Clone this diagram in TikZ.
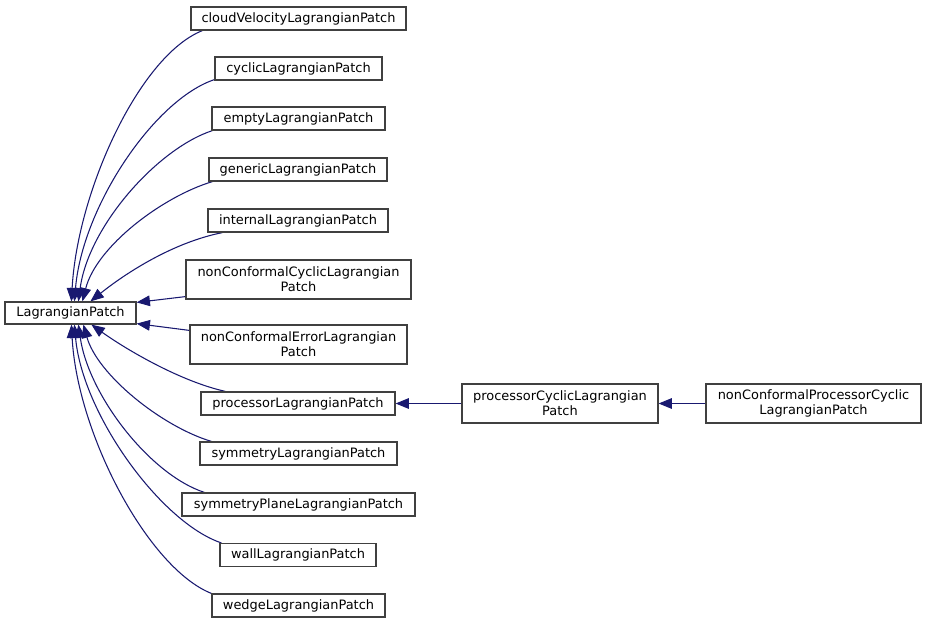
\documentclass[tikz,border=0pt]{standalone}
\usepackage{fontspec}
\setmainfont{DejaVu Sans}
\usetikzlibrary{arrows.meta,calc}
\definecolor{edgeblue}{HTML}{191970}
\definecolor{boxline}{HTML}{404040}
\pgfdeclarelayer{edges}
\pgfsetlayers{edges,main}
\begin{document}
\begin{tikzpicture}[x=0.75pt,y=-0.75pt,
 cls/.style={draw=boxline, line width=0.9pt, fill=white, inner sep=0pt, align=center, font=\fontsize{9.7}{11.25}\selectfont},
 edge/.style={draw=edgeblue, line width=0.8pt, -{Triangle[length=10pt,width=8pt]}}]
\useasboundingbox (0,0) rectangle (928,625);
\node[cls, minimum width=98.25pt, minimum height=16.5pt] (L) at (70.5,313) {LagrangianPatch};
\node[cls, minimum width=161.25pt, minimum height=17.25pt] (cloud) at (298.5,18.5) {cloudVelocityLagrangianPatch};
\node[cls, minimum width=125.25pt, minimum height=17.25pt] (cyclic) at (298.5,68.5) {cyclicLagrangianPatch};
\node[cls, minimum width=129.75pt, minimum height=17.25pt] (empty) at (298.5,118.5) {emptyLagrangianPatch};
\node[cls, minimum width=133.5pt, minimum height=17.25pt] (generic) at (298,169.5) {genericLagrangianPatch};
\node[cls, minimum width=135pt, minimum height=17.25pt] (internal) at (298,220.5) {internalLagrangianPatch};
\node[cls, minimum width=168.75pt, minimum height=29.25pt] (ncc) at (298.5,279.5) {nonConformalCyclicLagrangian\\Patch};
\node[cls, minimum width=162.75pt, minimum height=29.25pt] (nce) at (298.5,344.5) {nonConformalErrorLagrangian\\Patch};
\node[cls, minimum width=145.5pt, minimum height=17.25pt] (proc) at (298,403.5) {processorLagrangianPatch};
\node[cls, minimum width=147.75pt, minimum height=17.25pt] (sym) at (298.5,453.5) {symmetryLagrangianPatch};
\node[cls, minimum width=174.75pt, minimum height=17.25pt] (symp) at (298.5,504.5) {symmetryPlaneLagrangianPatch};
\node[cls, minimum width=117pt, minimum height=17.25pt] (wall) at (298,555) {wallLagrangianPatch};
\node[cls, minimum width=129.75pt, minimum height=17.25pt] (wedge) at (298.5,605.5) {wedgeLagrangianPatch};
\node[cls, minimum width=147pt, minimum height=29.25pt] (pcyc) at (560,403.5) {processorCyclicLagrangian\\Patch};
\node[cls, minimum width=161.25pt, minimum height=29.25pt] (ncpc) at (813.5,403.5) {nonConformalProcessorCyclic\\LagrangianPatch};

\begin{pgfonlayer}{edges}
\draw[edge] ($(cloud.south west)+(12,0)$) .. controls +(-63,25) and +(6,-110) .. ($(L.north west)+(67,0)$);
\draw[edge] ($(cyclic.south west)+(0,-1)$) .. controls +(-60,20) and +(8,-95) .. ($(L.north west)+(70,0)$);
\draw[edge] ($(empty.south west)+(1,0)$) .. controls +(-55,18) and +(10,-75) .. ($(L.north west)+(74,0)$);
\draw[edge] ($(generic.south west)+(4,0)$) .. controls +(-50,15) and +(14,-55) .. ($(L.north west)+(78,0)$);
\draw[edge] ($(internal.south west)+(15,0)$) .. controls +(-50,10) and +(35,-28) .. ($(L.north west)+(86,0)$);
\draw[edge] ($(ncc.south west)+(0,-3)$) -- ($(L.north east)+(0,1)$);
\draw[edge] ($(nce.north west)+(0,6)$) -- ($(L.south east)+(0,-1)$);
\draw[edge] ($(proc.north west)+(25,0)$) .. controls +(-45,-10) and +(35,25) .. ($(L.south west)+(87,0)$);
\draw[edge] ($(sym.north west)+(12,0)$) .. controls +(-50,-15) and +(14,50) .. ($(L.south west)+(79,0)$);
\draw[edge] ($(symp.north west)+(23,0)$) .. controls +(-55,-18) and +(10,70) .. ($(L.south west)+(74,0)$);
\draw[edge] ($(wall.north west)+(2,0)$) .. controls +(-60,-20) and +(8,90) .. ($(L.south west)+(70,0)$);
\draw[edge] (wedge.north west) .. controls +(-63,-25) and +(6,110) .. ($(L.south west)+(67,0)$);
\draw[edge] (pcyc.west) -- (proc.east);
\draw[edge] (ncpc.west) -- (pcyc.east);
\end{pgfonlayer}
\end{tikzpicture}
\end{document}
